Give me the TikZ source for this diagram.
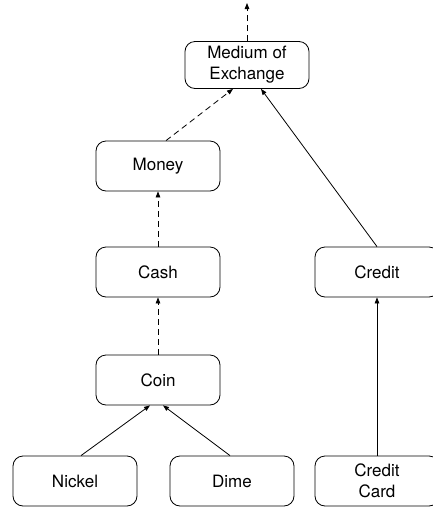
\documentclass[tikz,border=0pt]{standalone}
\usepackage{fontspec}
\setmainfont{TeX Gyre Heros}
\usepackage{tikz}
\usetikzlibrary{arrows.meta}

\begin{document}
\begin{tikzpicture}[x=1pt,y=-1pt,line width=0.8pt,
    box/.style={draw,rounded corners=10pt,minimum width=124pt,minimum height=50pt,
      inner sep=0pt,align=center,font=\fontsize{17}{21}\selectfont},
    isa/.style={-{Triangle[length=6pt,width=4.5pt]}},
    isadash/.style={isa,dash pattern=on 6pt off 4pt}]
    \useasboundingbox (0,0) rectangle (433,507);

    % Concepts
    \node[box,minimum height=47pt] (exchange) at (247,65) {Medium of\\Exchange};
    \node[box] (money) at (158,166) {Money};
    \node[box] (cash) at (158,272) {Cash};
    \node[box] (coin) at (158,380) {Coin};
    \node[box] (nickel) at (75,481) {Nickel};
    \node[box] (dime) at (232,481) {Dime};
    \node[box] (credit) at (377,272) {Credit};
    \node[box] (creditcard) at (377,481) {Credit\\Card};
    \coordinate (up) at (247,3);

    % Dashed links
    \draw[isadash] (exchange) -- (up);
    \draw[isadash] ([xshift=8pt]money.north) -- ([xshift=-14pt]exchange.south);
    \draw[isadash] (cash) -- (money);
    \draw[isadash] (coin) -- (cash);

    % Solid links
    \draw[isa] (credit.north) -- ([xshift=14pt]exchange.south);
    \draw[isa] ([xshift=6pt]nickel.north) -- ([xshift=-8pt]coin.south);
    \draw[isa] ([xshift=-2pt]dime.north) -- ([xshift=5pt]coin.south);
    \draw[isa] (creditcard) -- (credit);
  \end{tikzpicture}
\end{document}
